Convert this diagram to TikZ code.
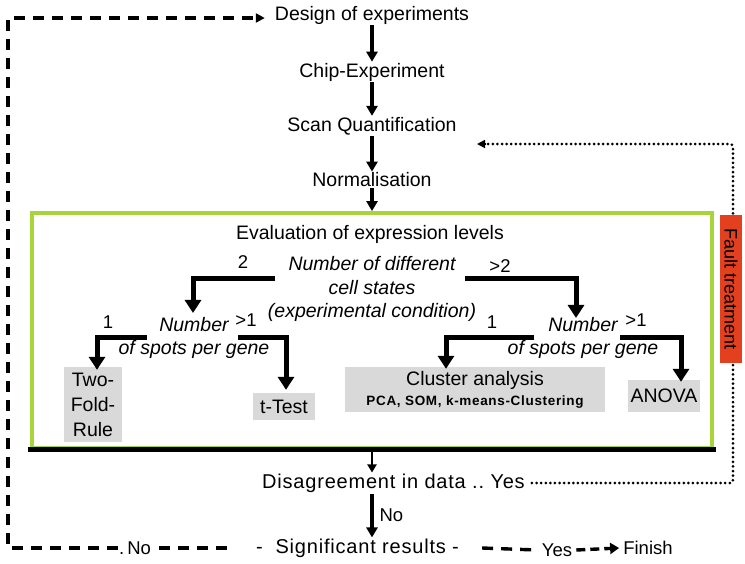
\documentclass[tikz,border=0pt]{standalone}
\usepackage{fontspec}
\setmainfont{Liberation Sans}
\usetikzlibrary{arrows.meta}
\definecolor{boxgreen}{HTML}{A8D43A}
\definecolor{faultred}{HTML}{E2401E}
\definecolor{boxgray}{HTML}{D9D9D9}
\begin{document}
\begin{tikzpicture}[x=1pt,y=-1pt,
  txt/.style={font=\fontsize{19.5}{22}\selectfont, inner sep=1pt},
  widetxt/.style={font=\fontsize{20}{22}\selectfont\addfontfeature{LetterSpace=4}, inner sep=1pt},
  itx/.style={font=\fontsize{19.5}{23.5}\selectfont\itshape, align=center, inner sep=1pt},
  lbl/.style={font=\fontsize{18.5}{20}\selectfont, inner sep=1pt},
  graybox/.style={fill=boxgray, font=\fontsize{19.5}{25}\selectfont, align=center, inner sep=2pt},
  flow/.style={line width=3.2pt, -{Triangle[width=11pt,length=10pt]}},
  branch/.style={line width=5pt, -{Triangle[width=16pt,length=13pt]}},
  loopdash/.style={line width=3.4pt, dash pattern=on 11pt off 8pt},
  fbdot/.style={line width=3pt, line cap=round, dash pattern=on 0pt off 4.6pt},
]
\useasboundingbox (0,0) rectangle (745,563);

% main chain
\node[txt] (design) at (372,15) {Design of experiments};
\node[txt] (chip) at (372,72) {Chip-Experiment};
\node[txt] (scan) at (372,126) {Scan Quantification};
\node[txt] (norm) at (372,180) {Normalisation};
\draw[flow] (design) -- (chip);
\draw[flow] (chip) -- (scan);
\draw[flow] (scan) -- (norm);

% evaluation box
\node[draw=boxgreen, line width=3.8pt, minimum width=680pt, minimum height=235pt] (evalbox) at (372,330.5) {};
\draw[flow] (norm) -- (evalbox.north);
\draw[line width=5pt] ([xshift=-1.9pt]evalbox.south west) -- ([xshift=1.9pt]evalbox.south east);

\node[txt] (evaltitle) at (370,234) {Evaluation of expression levels};
\node[itx] (numdiff) at (372,289) {Number of different\\cell states\\(experimental condition)};

\node[itx] (numL) at (194,338) {Number\\of spots per gene};
\node[itx] (numR) at (583,338) {Number\\of spots per gene};

\node[lbl] (l2) at (243,262) {2};
\node[lbl] (lgt2) at (500,266) {>2};
\node[lbl] (lL1) at (108,322) {1};
\node[lbl] (lLgt1) at (246,320) {>1};
\node[lbl] (lR1) at (492,322) {1};
\node[lbl] (lRgt1) at (636,320) {>1};

\node[graybox, minimum width=58pt, minimum height=75pt] (tworule) at (93,404.5) {Two-\\Fold-\\Rule};
\node[graybox, minimum width=62pt, minimum height=27pt] (ttest) at (284,406.5) {t-Test};
\node[graybox, minimum width=260pt, minimum height=45pt, font=\fontsize{19.5}{20}\selectfont] (cluster) at (475,389.5) {Cluster analysis\\[0pt]{\fontsize{13.5}{14}\selectfont\bfseries\addfontfeature{LetterSpace=5}PCA, SOM, k-means-Clustering}};
\node[graybox, minimum width=72pt, minimum height=32pt] (anova) at (664,396) {ANOVA};

\coordinate (dL) at (275,278);
\coordinate (dR) at (465,278);
\coordinate (sLL) at (147,337);
\coordinate (sLR) at (238,337);
\coordinate (sRL) at (534,337);
\coordinate (sRR) at (620,337);
\draw[branch] (dL) -| ([xshift=-1pt,yshift=3pt]numL.north);
\draw[branch] (dR) -| ([xshift=-7pt,yshift=-2pt]numR.north);
\draw[branch] (sLL) -| ([xshift=4pt,yshift=-3pt]tworule.north);
\draw[branch] (sLR) -| ([xshift=2pt,yshift=3pt]ttest.north);
\draw[branch] (sRL) -| ([xshift=-29pt,yshift=-2pt]cluster.north);
\draw[branch] (sRR) -| ([xshift=17pt,yshift=-2pt]anova.north);

% lower part
\node[widetxt, anchor=west] (dis) at (261,483) {Disagreement in data ..\ Yes};
\draw[line width=2.4pt, -{Triangle[width=9pt,length=8pt]}] ([yshift=2.5pt]evalbox.south) -- (evalbox.south |- dis.north);

\node[widetxt, anchor=west] (sig) at (255,548) {-\ \ Significant results -};
\draw[flow] (evalbox.south |- dis.south) -- (evalbox.south |- sig.north) node[midway, right=5pt, lbl] (no1) {No};

% fault feedback loop
\coordinate (fbCorner) at (733,483);
\coordinate (fbTop) at (733,144);
\coordinate (fbTip) at (477,144);
\draw[fbdot, rounded corners=3pt] ([xshift=6pt]dis.east) -- (fbCorner) -- (fbTop) -- ([xshift=7pt]fbTip);
\draw[line width=1.5pt, -{Triangle[width=8pt,length=8pt]}] ([xshift=9pt]fbTip) -- (fbTip);
\node[fill=faultred, rotate=-90, minimum width=148pt, minimum height=22pt, inner sep=0pt, font=\fontsize{18}{18}\selectfont] (fault) at (731,289) {Fault treatment};

% no-loop back to design
\node[lbl] (noL) at (135,548) {.\,No};
\coordinate (loopBL) at (8,548);
\coordinate (loopTL) at (8,18);
\draw[loopdash] ([xshift=-28pt]sig.west) -- (noL.east);
\draw[loopdash, -{Triangle[width=9pt,length=9pt]}] (noL.west) -- (loopBL) -- (loopTL) -- ([xshift=-9pt]design.west |- loopTL);

% yes to finish
\node[lbl] (yes) at (557,550) {Yes};
\node[lbl] (finish) at (648,548) {Finish};
\draw[loopdash] ([xshift=22pt]sig.east) -- ([xshift=-4pt]yes.west);
\draw[line width=3.4pt, dash pattern=on 9pt off 5pt, -{Triangle[width=11pt,length=9pt]}] ([xshift=3pt]yes.east) -- ([xshift=-3pt]finish.west);
\end{tikzpicture}
\end{document}
